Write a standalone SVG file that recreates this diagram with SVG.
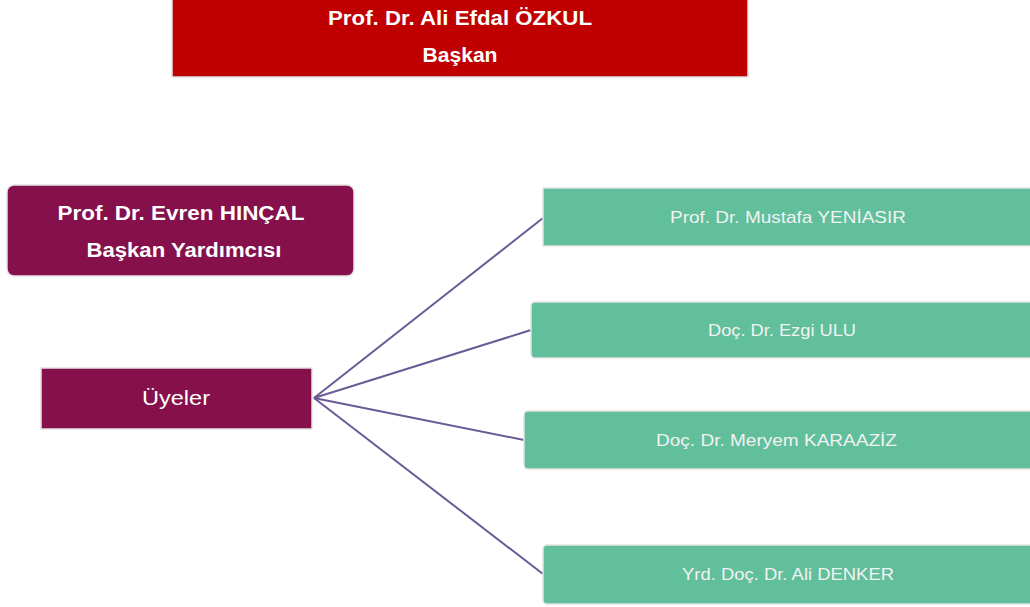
<svg xmlns="http://www.w3.org/2000/svg" width="1030" height="607" viewBox="0 0 1030 607">
<style>
.t{font-family:"Liberation Sans",Arial,sans-serif;text-anchor:middle;fill:#ffffff}
.b{font-weight:bold;font-size:20px}
.g{font-size:17px;fill:#f2f2f2}
.box{stroke:#e3e3e3;stroke-width:1.5}
.red{fill:#c00000}
.plum{fill:#85104b}
.green{fill:#61bf9c}
.conn{stroke:#6a5b96;stroke-width:2;fill:none}
</style>
<rect width="1030" height="607" fill="#ffffff"/>
<g id="baskan">
<rect class="box red" x="172" y="-2" width="576" height="79"/>
<text class="t b" x="460" y="25" textLength="264" lengthAdjust="spacingAndGlyphs">Prof. Dr. Ali Efdal ÖZKUL</text>
<text class="t b" x="460" y="62" textLength="75" lengthAdjust="spacingAndGlyphs">Başkan</text>
</g>
<g id="baskan-yardimcisi">
<rect class="box plum" x="7" y="185" width="347" height="91" rx="7"/>
<text class="t b" x="181" y="220" textLength="247" lengthAdjust="spacingAndGlyphs">Prof. Dr. Evren HINÇAL</text>
<text class="t b" x="184" y="257" textLength="195" lengthAdjust="spacingAndGlyphs">Başkan Yardımcısı</text>
</g>
<g id="uyeler">
<rect class="box plum" x="41" y="368" width="271" height="61"/>
<text class="t" style="font-size:20px" x="176" y="405" textLength="68" lengthAdjust="spacingAndGlyphs">Üyeler</text>
</g>
<g id="connectors">
<line class="conn" x1="314" y1="398" x2="543" y2="218"/>
<line class="conn" x1="314" y1="398" x2="531" y2="330"/>
<line class="conn" x1="314" y1="398" x2="524" y2="440"/>
<line class="conn" x1="314" y1="398" x2="543" y2="574"/>
</g>
<g id="uye1">
<rect class="box green" x="543" y="188" width="492" height="58"/>
<text class="t g" x="788" y="223" textLength="236" lengthAdjust="spacingAndGlyphs">Prof. Dr. Mustafa YENİASIR</text>
</g>
<g id="uye2">
<rect class="box green" x="531" y="302" width="504" height="56" rx="4"/>
<text class="t g" x="782" y="336" textLength="148" lengthAdjust="spacingAndGlyphs">Doç. Dr. Ezgi ULU</text>
</g>
<g id="uye3">
<rect class="box green" x="524" y="411" width="511" height="58" rx="4"/>
<text class="t g" x="776.5" y="446" textLength="241" lengthAdjust="spacingAndGlyphs">Doç. Dr. Meryem KARAAZİZ</text>
</g>
<g id="uye4">
<rect class="box green" x="543" y="545" width="492" height="59" rx="4"/>
<text class="t g" x="788" y="580" textLength="212" lengthAdjust="spacingAndGlyphs">Yrd. Doç. Dr. Ali DENKER</text>
</g>
</svg>
